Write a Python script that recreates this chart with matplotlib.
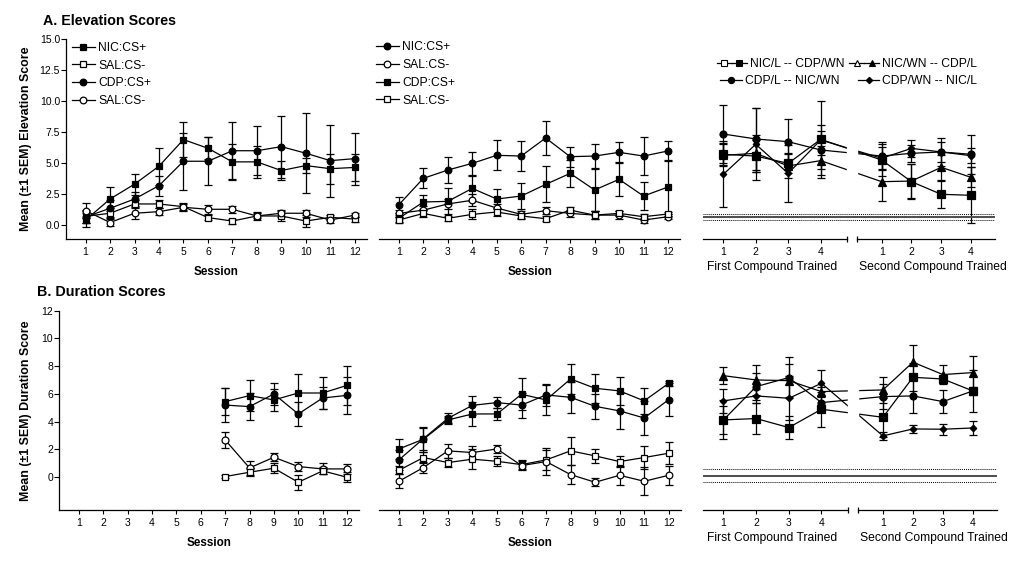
import matplotlib
matplotlib.use('Agg')
import matplotlib.pyplot as plt
import numpy as np
from matplotlib.lines import Line2D
from matplotlib.legend_handler import HandlerTuple

plt.rcParams['font.family'] = ['Liberation Sans', 'DejaVu Sans']

# ---- data -------------------------------------------------------------
sessions = list(range(1, 13))
dur_left_sessions = [7, 8, 9, 10, 11, 12]
compound_labels = ['1', '2', '3', '4', '1', '2', '3', '4']

# A. elevation, left group
elev_l_nic_plus = [0.4, 2.1, 3.3, 4.75, 6.9, 6.2, 5.1, 5.1, 4.4, 4.8, 4.55, 4.65]
elev_l_nic_plus_err = [0.6, 0.95, 0.85, 1.5, 1.4, 0.9, 1.45, 1.3, 0.8, 0.6, 1.2, 1.1]
elev_l_sal_sq = [0.7, 0.95, 1.7, 1.7, 1.48, 0.6, 0.32, 0.73, 0.73, 0.32, 0.62, 0.48]
elev_l_sal_sq_err = [0.5, 0.4, 0.3, 0.35, 0.3, 0.2, 0.2, 0.2, 0.4, 0.5, 0.2, 0.2]
elev_l_cdp_plus = [0.65, 1.35, 2.1, 3.18, 5.15, 5.15, 6.0, 6.0, 6.33, 5.8, 5.2, 5.36]
elev_l_cdp_plus_err = [0.5, 0.7, 0.6, 0.8, 2.3, 1.95, 2.3, 2.0, 2.5, 3.25, 2.9, 2.1]
elev_l_sal_ci = [1.16, 0.2, 0.95, 1.08, 1.43, 1.27, 1.27, 0.73, 0.95, 0.95, 0.4, 0.8]
elev_l_sal_ci_err = [0.6, 0.3, 0.5, 0.3, 0.3, 0.35, 0.3, 0.3, 0.3, 0.3, 0.25, 0.15]

# A. elevation, middle group
elev_m_nic_plus = [1.64, 3.77, 4.44, 4.98, 5.63, 5.57, 7.03, 5.52, 5.57, 5.87, 5.57, 5.98]
elev_m_nic_plus_err = [0.65, 0.8, 1.05, 0.95, 1.2, 1.2, 1.35, 0.8, 1.0, 0.8, 1.5, 0.8]
elev_m_sal_ci = [0.94, 1.2, 1.7, 2.0, 1.37, 0.86, 1.16, 0.94, 0.8, 0.8, 0.4, 0.67]
elev_m_sal_ci_err = [0.3, 0.3, 0.4, 0.5, 0.3, 0.3, 0.3, 0.3, 0.3, 0.3, 0.2, 0.2]
elev_m_cdp_plus = [0.54, 1.86, 1.91, 2.96, 2.1, 2.34, 3.28, 4.17, 2.83, 3.69, 2.34, 3.07]
elev_m_cdp_plus_err = [0.3, 0.6, 1.05, 1.0, 0.8, 1.05, 1.45, 1.1, 1.7, 1.35, 1.1, 2.2]
elev_m_sal_sq = [0.4, 0.94, 0.54, 0.86, 1.05, 0.73, 0.51, 1.2, 0.8, 0.94, 0.67, 0.89]
elev_m_sal_sq_err = [0.25, 0.3, 0.2, 0.4, 0.35, 0.25, 0.2, 0.25, 0.35, 0.2, 0.2, 0.2]

# A. elevation, compound groups (first 4 = first compound, last 4 = second)
elev_nicl_cdpwn = [5.71, 5.57, 4.98, 6.92, 5.25, 3.5, 2.48, 2.4]
elev_nicl_cdpwn_err = [0.9, 1.3, 0.8, 3.1, 1.3, 1.4, 1.1, 2.27]
elev_nicwn_cdpl = [5.63, 5.79, 4.77, 5.2, 3.5, 3.55, 4.66, 3.85]
elev_nicwn_cdpl_err = [0.9, 1.5, 1.0, 1.2, 1.56, 1.4, 1.0, 0.8]
elev_cdpl_nicwn = [7.35, 6.95, 6.73, 6.06, 5.57, 5.79, 5.9, 5.71]
elev_cdpl_nicwn_err = [2.35, 2.5, 1.8, 1.5, 1.1, 0.7, 1.1, 1.55]
elev_cdpwn_nicl = [4.09, 6.52, 4.17, 6.87, 5.39, 6.19, 5.9, 5.6]
elev_cdpwn_nicl_err = [2.66, 2.9, 2.3, 1.2, 0.9, 0.7, 0.8, 0.6]
elev_ref_mean = 0.65
elev_ref_sem = 0.245

# B. duration, left group (sessions 7-12)
dur_l_nic_plus = [5.45, 5.88, 5.57, 6.07, 6.07, 6.62]
dur_l_nic_plus_err = [1.0, 1.1, 0.77, 1.35, 1.15, 1.4]
dur_l_cdp_plus = [5.2, 5.09, 6.0, 4.56, 5.71, 5.9]
dur_l_cdp_plus_err = [1.2, 0.95, 0.8, 0.86, 0.8, 1.34]
dur_l_sal_ci = [2.69, 0.67, 1.44, 0.77, 0.6, 0.6]
dur_l_sal_ci_err = [0.6, 0.5, 0.3, 0.3, 0.4, 0.35]
dur_l_sal_sq = [0.05, 0.36, 0.65, -0.36, 0.46, 0.0]
dur_l_sal_sq_err = [0.1, 0.3, 0.35, 0.55, 0.25, 0.35]

# B. duration, middle group
dur_m_cdp_plus = [2.04, 2.74, 4.13, 4.56, 4.56, 5.98, 5.57, 7.08, 6.41, 6.22, 5.5, 6.77]
dur_m_cdp_plus_err = [0.75, 0.9, 0.3, 0.85, 0.45, 1.15, 1.1, 1.1, 1.05, 1.0, 0.95, 0.2]
dur_m_nic_plus = [1.25, 2.78, 4.25, 5.18, 5.38, 5.2, 5.93, 5.76, 5.11, 4.78, 4.27, 5.59]
dur_m_nic_plus_err = [0.7, 0.8, 0.35, 0.7, 0.4, 0.9, 0.8, 1.1, 0.9, 1.3, 1.2, 1.2]
dur_m_sal_sq = [0.5, 1.42, 1.06, 1.3, 1.15, 0.91, 1.25, 1.9, 1.54, 1.13, 1.42, 1.73]
dur_m_sal_sq_err = [0.3, 0.4, 0.3, 0.7, 0.35, 0.35, 0.7, 1.0, 0.5, 0.4, 0.8, 0.8]
dur_m_sal_ci = [-0.29, 0.7, 1.9, 1.78, 2.04, 0.84, 1.13, 0.19, -0.36, 0.14, -0.29, 0.14]
dur_m_sal_ci_err = [0.5, 0.4, 0.5, 0.5, 0.3, 0.35, 1.0, 0.7, 0.3, 0.7, 1.0, 0.7]

# B. duration, compound groups
dur_nicl_cdpwn = [4.13, 4.23, 3.58, 4.9, 4.32, 7.2, 7.08, 6.22]
dur_nicl_cdpwn_err = [1.0, 1.1, 0.8, 1.25, 1.4, 1.0, 0.3, 1.5]
dur_nicwn_cdpl = [7.32, 7.01, 6.96, 6.17, 6.29, 8.29, 7.4, 7.54]
dur_nicwn_cdpl_err = [0.6, 1.1, 1.2, 0.3, 0.95, 1.24, 0.7, 1.2]
dur_cdpl_nicwn = [4.13, 6.53, 7.18, 5.38, 5.81, 5.86, 5.45, 6.22]
dur_cdpl_nicwn_err = [1.4, 1.0, 1.45, 0.4, 0.9, 1.2, 0.85, 0.3]
dur_cdpwn_nicl = [5.5, 5.86, 5.69, 6.77, 2.98, 3.48, 3.46, 3.55]
dur_cdpwn_nicl_err = [0.85, 0.5, 1.6, 0.95, 0.3, 0.3, 0.4, 0.5]
dur_ref_mean = 0.1
dur_ref_sem = 0.46

# ---- layout -----------------------------------------------------------
W, H = 1029, 561
fig = plt.figure(figsize=(W / 100, H / 100), dpi=100)


def px_axes(x0, x1, y_top, y_bot):
    return fig.add_axes([x0 / W, 1 - y_bot / H, (x1 - x0) / W, (y_bot - y_top) / H])


axA1 = px_axes(66, 366.7, 39.3, 239)
axA2 = px_axes(379.3, 680, 39.3, 239)
axA3 = px_axes(703.3, 995, 39.3, 239)
axB1 = px_axes(59.3, 359, 310.7, 510)
axB2 = px_axes(379.3, 680.7, 310.7, 510)
axB3 = px_axes(703.3, 997, 310.7, 510)

elev_ylim = (-1.13, 15)
dur_ylim = (-2.36, 12)

# broken compound axis: second compound sessions sit after a gap
seg2_start, seg2_step = 5.88, 0.917
gap_lo, gap_hi = 4.80, 5.12
comp_xlim = (0.384, 9.37)
compound_pos = np.concatenate([np.arange(1, 5), seg2_start + np.arange(4) * seg2_step])


def draw(ax, x, y, err, marker, filled=True, ms=5):
    c = ax.errorbar(x, y, yerr=err, color='black', lw=0.9, marker=marker, ms=ms,
                    mfc='black' if filled else 'white', mec='black', mew=0.9,
                    elinewidth=0.9, capsize=3, capthick=0.9)
    return c[0]


def style_session(ax, ylim, show_y):
    ax.set_xlim(0.2, 12.49)
    ax.set_ylim(*ylim)
    ax.set_xticks(sessions)
    ax.spines[['top', 'right']].set_visible(False)
    for s in ax.spines.values():
        s.set_linewidth(0.9)
    ax.tick_params(axis='x', direction='out', length=3, width=0.8, labelsize=7.5, pad=2.5)
    ax.tick_params(axis='y', direction='out', length=3.3, width=0.8, labelsize=7.5, pad=1)
    if not show_y:
        ax.spines['left'].set_visible(False)
        ax.tick_params(axis='y', left=False, labelleft=False)
    ax.set_xlabel('Session', fontsize=8.4, fontweight='bold')
    ax.xaxis.set_label_coords(0.5, -0.135)


def style_compound(ax, ylim, ref_mean, ref_sem):
    ax.set_xlim(*comp_xlim)
    ax.set_ylim(*ylim)
    for s in ax.spines.values():
        s.set_visible(False)
    ax.tick_params(axis='y', left=False, labelleft=False)
    ax.set_xticks(compound_pos, labels=compound_labels)
    ax.tick_params(axis='x', direction='out', length=3, width=0.8, labelsize=7.5, pad=2.5)
    # white gap that breaks the data lines between the two compounds
    ax.axvspan(gap_lo, gap_hi, color='white', zorder=3)
    ax.axhline(ref_mean, color='0.3', lw=1.4, zorder=4)
    for v in (ref_mean - ref_sem, ref_mean + ref_sem):
        ax.axhline(v, color='black', lw=0.7, ls=(0, (1, 1)), zorder=4)
    trans = ax.get_xaxis_transform()
    ax.plot([comp_xlim[0], gap_lo], [0, 0], transform=trans, color='black', lw=0.9,
            clip_on=False, zorder=5)
    ax.plot([gap_hi, comp_xlim[1]], [0, 0], transform=trans, color='black', lw=0.9,
            clip_on=False, zorder=5)
    ax.plot([gap_lo, gap_hi], [0, 0], transform=trans, ls='none', marker='|', ms=4.5,
            mew=0.9, color='black', clip_on=False, zorder=5)
    ax.text(2.5, -0.11, 'First Compound Trained', transform=trans, ha='center',
            va='top', fontsize=8.7)
    ax.text(7.45, -0.11, 'Second Compound Trained', transform=trans, ha='center',
            va='top', fontsize=8.7)


leg_kw = dict(frameon=False, fontsize=8.7, borderpad=0, borderaxespad=0,
              handletextpad=0.25)

# ---- A. elevation -------------------------------------------------------
h1 = draw(axA1, sessions, elev_l_nic_plus, elev_l_nic_plus_err, 's')
h2 = draw(axA1, sessions, elev_l_sal_sq, elev_l_sal_sq_err, 's', filled=False)
h3 = draw(axA1, sessions, elev_l_cdp_plus, elev_l_cdp_plus_err, 'o', ms=4.8)
h4 = draw(axA1, sessions, elev_l_sal_ci, elev_l_sal_ci_err, 'o', filled=False, ms=4.8)
style_session(axA1, elev_ylim, True)
axA1.set_yticks(np.arange(0, 15.1, 2.5))
axA1.yaxis.set_major_formatter('{x:.1f}')
axA1.set_ylabel('Mean (\u00b11 SEM) Elevation Score', fontsize=8.9, fontweight='bold')
axA1.yaxis.set_label_coords(-0.113, 0.5)
axA1.legend([h1, h2, h3, h4], ['NIC:CS+', 'SAL:CS-', 'CDP:CS+', 'SAL:CS-'],
            loc='upper left', bbox_to_anchor=(0.02, 0.987), handlelength=1.9,
            labelspacing=0.48, **leg_kw)

h1 = draw(axA2, sessions, elev_m_nic_plus, elev_m_nic_plus_err, 'o', ms=4.8)
h2 = draw(axA2, sessions, elev_m_sal_ci, elev_m_sal_ci_err, 'o', filled=False, ms=4.8)
h3 = draw(axA2, sessions, elev_m_cdp_plus, elev_m_cdp_plus_err, 's')
h4 = draw(axA2, sessions, elev_m_sal_sq, elev_m_sal_sq_err, 's', filled=False)
style_session(axA2, elev_ylim, False)
axA2.legend([h1, h2, h3, h4], ['NIC:CS+', 'SAL:CS-', 'CDP:CS+', 'SAL:CS-'],
            loc='upper left', bbox_to_anchor=(-0.011, 0.99), handlelength=1.9,
            labelspacing=0.48, **leg_kw)

draw(axA3, compound_pos, elev_nicl_cdpwn, elev_nicl_cdpwn_err, 's', ms=5.2)
draw(axA3, compound_pos, elev_nicwn_cdpl, elev_nicwn_cdpl_err, '^', ms=5.2)
draw(axA3, compound_pos, elev_cdpl_nicwn, elev_cdpl_nicwn_err, 'o', ms=5)
draw(axA3, compound_pos, elev_cdpwn_nicl, elev_cdpwn_nicl_err, 'D', ms=3.3)
style_compound(axA3, elev_ylim, elev_ref_mean, elev_ref_sem)


def proxy(marker, filled, ms=4.5):
    return Line2D([], [], color='black', lw=0.9, marker=marker, ms=ms,
                  mfc='black' if filled else 'white', mec='black', mew=0.8)


row1 = axA3.legend([(proxy('s', False), proxy('s', True)), (proxy('^', False), proxy('^', True))],
                   ['NIC/L -- CDP/WN', 'NIC/WN -- CDP/L'], ncol=2, loc='upper right',
                   bbox_to_anchor=(0.94, 0.905), handlelength=2.5, columnspacing=0.4,
                   handler_map={tuple: HandlerTuple(ndivide=None, pad=0)}, **leg_kw)
axA3.add_artist(row1)
axA3.legend([proxy('o', True), proxy('D', True, 3.3)],
            ['CDP/L -- NIC/WN', 'CDP/WN -- NIC/L'], ncol=2, loc='upper right',
            bbox_to_anchor=(0.94, 0.822), handlelength=1.8, columnspacing=1.5, **leg_kw)

# ---- B. duration -------------------------------------------------------
draw(axB1, dur_left_sessions, dur_l_nic_plus, dur_l_nic_plus_err, 's')
draw(axB1, dur_left_sessions, dur_l_cdp_plus, dur_l_cdp_plus_err, 'o', ms=4.8)
draw(axB1, dur_left_sessions, dur_l_sal_ci, dur_l_sal_ci_err, 'o', filled=False, ms=5)
draw(axB1, dur_left_sessions, dur_l_sal_sq, dur_l_sal_sq_err, 's', filled=False)
style_session(axB1, dur_ylim, True)
axB1.set_yticks(np.arange(0, 13, 2))
axB1.set_ylabel('Mean (\u00b11 SEM) Duration Score', fontsize=8.9, fontweight='bold')
axB1.yaxis.set_label_coords(-0.091, 0.5)

draw(axB2, sessions, dur_m_cdp_plus, dur_m_cdp_plus_err, 's')
draw(axB2, sessions, dur_m_nic_plus, dur_m_nic_plus_err, 'o', ms=4.8)
draw(axB2, sessions, dur_m_sal_sq, dur_m_sal_sq_err, 's', filled=False)
draw(axB2, sessions, dur_m_sal_ci, dur_m_sal_ci_err, 'o', filled=False, ms=4.8)
style_session(axB2, dur_ylim, False)

draw(axB3, compound_pos, dur_nicl_cdpwn, dur_nicl_cdpwn_err, 's', ms=5.2)
draw(axB3, compound_pos, dur_nicwn_cdpl, dur_nicwn_cdpl_err, '^', ms=5.2)
draw(axB3, compound_pos, dur_cdpl_nicwn, dur_cdpl_nicwn_err, 'o', ms=5)
draw(axB3, compound_pos, dur_cdpwn_nicl, dur_cdpwn_nicl_err, 'D', ms=3.3)
style_compound(axB3, dur_ylim, dur_ref_mean, dur_ref_sem)

fig.text(43 / W, 1 - 21 / H, 'A. Elevation Scores', fontsize=10.3, fontweight='bold',
         va='center', ha='left')
fig.text(37 / W, 1 - 292 / H, 'B. Duration Scores', fontsize=10.3, fontweight='bold',
         va='center', ha='left')

fig.savefig('out.png', dpi=100)
